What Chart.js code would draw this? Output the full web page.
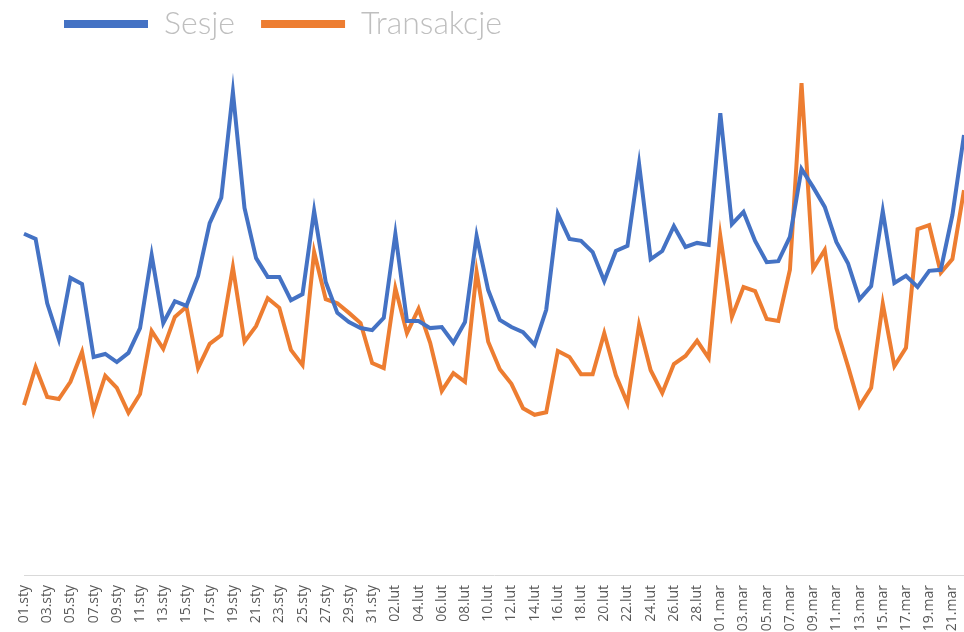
<!DOCTYPE html>
<html>
<head>
<meta charset="utf-8">
<script src="https://cdn.jsdelivr.net/npm/chart.js"></script>
<style>
  html, body { margin: 0; padding: 0; background: #fff; }
  #wrap { width: 964px; height: 632px; position: relative; }
</style>
</head>
<body>
<div id="wrap"><canvas id="chart"></canvas></div>
<script>
// ── daily labels, 01.sty .. 22.mar ──────────────────────────────────────────
const dni = [
  '01.sty','02.sty','03.sty','04.sty','05.sty','06.sty','07.sty','08.sty','09.sty','10.sty',
  '11.sty','12.sty','13.sty','14.sty','15.sty','16.sty','17.sty','18.sty','19.sty','20.sty',
  '21.sty','22.sty','23.sty','24.sty','25.sty','26.sty','27.sty','28.sty','29.sty','30.sty','31.sty',
  '01.lut','02.lut','03.lut','04.lut','05.lut','06.lut','07.lut','08.lut','09.lut','10.lut',
  '11.lut','12.lut','13.lut','14.lut','15.lut','16.lut','17.lut','18.lut','19.lut','20.lut',
  '21.lut','22.lut','23.lut','24.lut','25.lut','26.lut','27.lut','28.lut','29.lut',
  '01.mar','02.mar','03.mar','04.mar','05.mar','06.mar','07.mar','08.mar','09.mar','10.mar',
  '11.mar','12.mar','13.mar','14.mar','15.mar','16.mar','17.mar','18.mar','19.mar','20.mar',
  '21.mar','22.mar'
];

// relative values (no value axis in the source, 0-100 of plot height)
const sesje = [
  67.3, 66.3, 53.6, 46.5, 58.6, 57.4, 43.0, 43.6, 42.0, 43.8,
  48.7, 63.1, 49.7, 54.0, 53.1, 59.0, 69.4, 74.4, 95.3, 72.4,
  62.5, 58.8, 58.8, 54.2, 55.4, 71.8, 57.8, 51.7, 49.9, 48.7, 48.3,
  50.7, 67.3, 50.1, 50.1, 48.7, 48.9, 45.8, 49.9, 66.9, 56.2,
  50.3, 48.9, 47.9, 45.4, 52.3, 71.2, 66.3, 65.9, 63.7, 58.0,
  63.9, 64.9, 81.1, 62.3, 63.9, 68.8, 64.7, 65.5, 65.1,
  91.1, 69.2, 71.6, 65.9, 61.7, 61.9, 66.7, 80.1, 76.5, 72.6,
  65.7, 61.5, 54.4, 57.0, 71.8, 57.6, 59.0, 56.8, 60.0, 60.2,
  71.0, 86.8
];

const transakcje = [
  33.5, 41.0, 35.1, 34.7, 38.1, 44.0, 32.3, 39.3, 36.9, 32.0,
  35.7, 48.1, 44.6, 50.9, 52.9, 40.8, 45.6, 47.3, 60.7, 46.0,
  49.1, 54.6, 52.7, 44.4, 41.4, 63.7, 54.4, 53.6, 51.7, 49.7, 41.8,
  40.8, 56.6, 47.7, 52.5, 45.8, 36.3, 39.8, 38.1, 59.8, 46.0,
  40.6, 37.7, 32.9, 31.6, 32.1, 44.2, 43.0, 39.6, 39.6, 47.7,
  39.4, 33.9, 49.3, 40.4, 35.9, 41.6, 43.2, 46.2, 42.8,
  66.9, 50.9, 56.8, 56.0, 50.5, 50.1, 60.2, 97.0, 60.4, 64.1,
  48.7, 41.2, 33.3, 36.9, 53.5, 41.2, 44.8, 68.2, 69.0, 59.6,
  62.3, 75.9
];

const BLUE = '#4472C4';
const ORANGE = '#ED7D31';

// legend sits left of centre in the original, nudge it there
const legendShift = {
  id: 'legendShift',
  beforeDraw(chart) {
    chart.legend.left = 38;
    chart.legend.top = -18;
  }
};

new Chart(document.getElementById('chart').getContext('2d'), {
  type: 'line',
  data: {
    labels: dni,
    datasets: [
      { label: 'Sesje', data: sesje, borderColor: BLUE, backgroundColor: BLUE,
        borderWidth: 4, pointRadius: 0, tension: 0 },
      { label: 'Transakcje', data: transakcje, borderColor: ORANGE, backgroundColor: ORANGE,
        borderWidth: 4, pointRadius: 0, tension: 0 }
    ]
  },
  options: {
    responsive: true,
    maintainAspectRatio: false,
    animation: false,
    layout: { padding: { left: 24, right: 0, top: 0, bottom: 0 } },
    scales: {
      x: {
        offset: false,
        grid: { display: false, drawTicks: false, tickLength: 0 },
        border: { display: true, color: '#d9d9d9', width: 1 },
        ticks: {
          autoSkip: false,
          minRotation: 90, maxRotation: 90,
          padding: 10,
          color: '#595959',
          font: { family: 'Open Sans', size: 14 },
          callback: (v, i) => (i % 2 ? '' : dni[i])
        },
        afterFit(scale) {
          scale.height = 57;
          scale.paddingLeft = 0;
          scale.paddingRight = 0;
        }
      },
      y: { display: false, min: 0, max: 100 }
    },
    plugins: {
      legend: {
        position: 'top',
        align: 'start',
        labels: {
          boxWidth: 84, boxHeight: 8, padding: 26,
          color: '#bfbfbf',
          font: { family: 'Lato', size: 32, weight: '300' },
          generateLabels: chart =>
            Chart.defaults.plugins.legend.labels.generateLabels(chart)
              .map(item => Object.assign(item, { lineWidth: 0 }))
        }
      },
      tooltip: { enabled: false }
    }
  },
  plugins: [legendShift]
});
</script>
</body>
</html>
